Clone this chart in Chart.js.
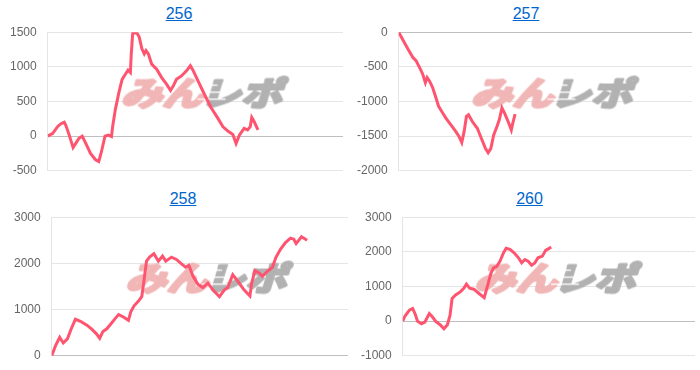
<!DOCTYPE html>
<html><head><meta charset="utf-8">
<script src="https://cdn.jsdelivr.net/npm/chart.js@4"></script>
<style>
html,body{margin:0;padding:0;background:#fff;width:700px;height:370px;overflow:hidden;font-family:"Liberation Sans",Arial,sans-serif}
.blk{position:absolute}
.ttl{position:absolute;left:0;right:0;top:4px;text-align:center;font-size:16px;line-height:20px}
.ttl a{color:#0066cc;text-decoration:underline}
.cv{position:absolute;left:0;right:0;top:22px;height:159px}
</style></head><body>
<script>
// ---- data ----
const titles = ["256", "257", "258", "260"];

const x256 = [0,1.7,3.4,4.5,5.6,6.1,7.3,8.6,9.5,10.6,11.7,12.9,14.5,16.2,17.3,18.2,19.4,20.5,21.6,22.0,22.9,24.1,25.2,26.3,27.2,28.0,28.3,28.8,30.2,31.0,31.9,32.7,33.3,34.1,35.2,36.9,38.6,40.3,41.6,42.5,43.6,45.3,47.0,48.3,49.2,50.9,53.1,55.4,57.6,59.3,61.0,62.7,63.8,64.9,66.5,67.7,68.6,69.1,69.9,71.2];
const y256 = [0,40,140,180,200,160,15,-165,-105,-30,0,-105,-250,-340,-365,-225,0,15,-5,140,383,627,820,893,952,918,1186,1490,1490,1430,1260,1186,1235,1186,1040,967,845,747,659,723,820,869,943,1016,952,796,601,406,260,138,74,25,-105,15,113,89,138,270,211,89];

const x257 = [0,1.5,3.1,4.8,5.9,7.1,8.2,9.1,9.7,10.5,11.6,12.7,13.6,15.0,16.1,17.8,19.5,20.6,21.5,22.3,23.1,23.8,25.1,26.8,28.2,29.6,30.5,31.4,32.4,33.5,34.3,35.2,36.1,37.3,38.4,38.9,39.7];
const y257 = [0,-117,-240,-361,-410,-508,-606,-728,-654,-703,-801,-947,-1069,-1167,-1240,-1338,-1435,-1508,-1591,-1435,-1215,-1191,-1289,-1386,-1533,-1679,-1738,-1679,-1484,-1362,-1264,-1093,-1167,-1289,-1411,-1313,-1181];

const x258 = [0,1.3,2.7,3.9,5.3,6.6,8.0,9.7,12.0,13.6,15.1,16.2,17.3,18.6,20.3,21.4,22.6,24.2,25.9,26.7,27.8,29.3,30.4,31.1,32.0,33.1,34.5,36.0,37.4,38.5,40.4,42.1,43.8,45.2,46.3,47.7,49.3,51.0,52.7,54.4,56.6,58.3,59.4,61.1,62.7,64.9,66.9,67.5,68.6,70.0,71.1,72.8,74.5,75.6,77.2,78.9,80.6,81.7,82.5,84.3,86.2];
const y258 = [0,219,402,278,366,585,790,746,658,571,475,380,527,585,717,805,893,841,768,951,1082,1185,1280,1609,2048,2144,2210,2048,2158,2048,2136,2085,1990,1916,1960,1719,1551,1477,1573,1427,1280,1427,1477,1756,1624,1427,1295,1573,1844,1793,1719,1829,1916,2122,2305,2451,2546,2524,2429,2575,2502];

const x260 = [0,0.8,2.3,3.4,4.2,5.1,6.4,7.6,9.1,10.2,11.3,12.8,14.1,15.3,16.2,16.9,18.1,19.8,20.9,21.8,22.9,24.3,26.0,27.9,29.1,30.2,31.1,32.2,33.3,34.5,35.4,36.7,38.1,39.6,40.7,41.8,42.9,44.1,45.2,46.3,47.8,48.9,50.1,50.8];
const y260 = [0,149,316,366,219,-6,-73,-26,219,120,-6,-102,-220,-102,170,658,755,852,951,1068,951,922,805,676,1048,1390,1537,1584,1731,1975,2101,2072,1975,1829,1682,1779,1731,1614,1682,1829,1877,2043,2101,2140];

const yMin = [-500, -2000, 0, -1000];
const yMax = [1500, 0, 3000, 3000];
const yStep = [500, 500, 1000, 1000];
const watermarkText = ["みん", "レポ"];

// ---- layout ----
const boxes = [
  {left:7,   top:0,   width:344, padR:8},
  {left:354, top:0,   width:344, padR:6},
  {left:11,  top:185, width:344, padR:7},
  {left:358, top:185, width:343, padR:6}
];
const xs = [x256, x257, x258, x260];
const ys = [y256, y257, y258, y260];

const wmPlugin = {
  id: 'wm',
  beforeDatasetsDraw(chart) {
    const ctx = chart.ctx, a = chart.chartArea;
    const W = 240, H = 60;
    const off = document.createElement('canvas');
    off.width = W; off.height = H;
    const o = off.getContext('2d');
    o.font = 'bold 33px "Noto Sans CJK JP"';
    o.textBaseline = 'middle';
    o.lineJoin = 'round';
    o.lineWidth = 3;
    const w1 = o.measureText(watermarkText[0]).width;
    const w2 = o.measureText(watermarkText[1]).width;
    const sx = 1.25, gap = -3;
    const total = (w1 + gap + w2) * sx;
    const ox = (W - total) / 2 + 7;
    o.save();
    o.setTransform(sx, 0, -0.3, 1, ox, H / 2);
    o.fillStyle = o.strokeStyle = 'rgb(240,176,176)';
    o.fillText(watermarkText[0], 0, 0);
    o.strokeText(watermarkText[0], 0, 0);
    o.fillStyle = o.strokeStyle = 'rgb(172,172,172)';
    o.fillText(watermarkText[1], w1 + gap, 0);
    o.strokeText(watermarkText[1], w1 + gap, 0);
    o.restore();
    // speed-line slits in the grey part
    o.globalCompositeOperation = 'destination-out';
    const gx = ox + (w1 + gap) * sx;
    [H/2 - 8, H/2 - 1, H/2 + 6].forEach(function(yy, i){
      o.fillRect(gx - 6, yy, 20 + i * 4, 1.3);
    });
    ctx.save();
    ctx.globalAlpha = 0.92;
    ctx.drawImage(off, (a.left + a.right) / 2 + 3 - W / 2, (a.top + a.bottom) / 2 - 9 - H / 2);
    ctx.restore();
  }
};

titles.forEach(function(t, i){
  const b = boxes[i];
  const blk = document.createElement('div');
  blk.className = 'blk';
  blk.style.left = b.left + 'px';
  blk.style.top = b.top + 'px';
  blk.style.width = b.width + 'px';
  blk.style.height = '185px';
  blk.innerHTML = '<div class="ttl"><a href="#">' + t + '</a></div><div class="cv"><canvas></canvas></div>';
  document.body.appendChild(blk);
  const canvas = blk.querySelector('canvas');
  new Chart(canvas, {
    type: 'line',
    data: {
      datasets: [{
        data: xs[i].map(function(x, k){ return {x: x, y: ys[i][k]}; }),
        borderColor: 'rgb(255,84,112)',
        borderWidth: 3,
        pointRadius: 0,
        tension: 0,
        fill: false
      }]
    },
    options: {
      responsive: true,
      maintainAspectRatio: false,
      animation: false,
      layout: {padding: {right: b.padR}},
      plugins: {legend: {display: false}, tooltip: {enabled: false}},
      scales: {
        x: {type: 'linear', min: 0, max: 100, display: false},
        y: {
          min: yMin[i], max: yMax[i],
          ticks: {stepSize: yStep[i], color: '#666', padding: 3,
                  callback: function(v){ return String(v); },
                  font: {size: 12, family: '"Liberation Sans", Arial, sans-serif'}},
          grid: {
            color: function(c){ return (c.tick && c.tick.value === 0) ? 'rgba(0,0,0,0.25)' : 'rgba(0,0,0,0.1)'; },
            tickColor: 'rgba(0,0,0,0)', tickLength: 8
          },
          border: {color: 'rgba(0,0,0,0.1)'}
        }
      }
    },
    plugins: [wmPlugin]
  });
});
</script>
</body></html>
